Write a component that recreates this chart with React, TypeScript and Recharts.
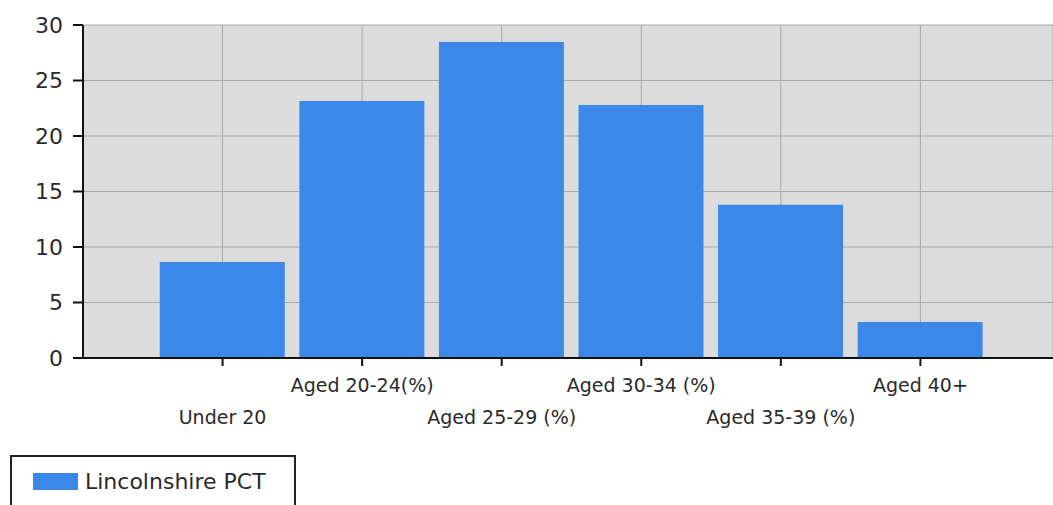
import React from 'react';
import { BarChart, Bar, XAxis, YAxis, CartesianGrid } from 'recharts';

const categories = ['Under 20', 'Aged 20-24(%)', 'Aged 25-29 (%)', 'Aged 30-34 (%)', 'Aged 35-39 (%)', 'Aged 40+'];
const values = [8.65, 23.15, 28.47, 22.8, 13.8, 3.24];
const positions = [1, 2, 3, 4, 5, 6];
const yTicks = [0, 5, 10, 15, 20, 25, 30];
const seriesName = 'Lincolnshire PCT';

const data = categories.map((c, i) => ({ pos: positions[i], name: c, value: values[i] }));

const FONT = '"DejaVu Sans", sans-serif';
const BAR_COLOR = '#3b88e9';

const XTick = (props: any) => {
  const { x, y, payload } = props;
  const i = positions.indexOf(payload.value);
  const lower = i % 2 === 0;
  return (
    <text
      x={x}
      y={y + (lower ? 51 : 19)}
      textAnchor="middle"
      dominantBaseline="central"
      fontFamily={FONT}
      fontSize={19}
      fill="#2a2a2a"
    >
      {categories[i]}
    </text>
  );
};

export default function App() {
  return (
    <div style={{ position: 'absolute', left: 0, top: 0, width: 1053, height: 505, overflow: 'hidden', background: '#fff' }}>
      <BarChart width={1053} height={505} data={data} margin={{ top: 25, right: 0, bottom: 67, left: 0 }}>
        <CartesianGrid fill="#dcdcdc" stroke="#a8a8a8" strokeWidth={1} />
        <XAxis
          type="number"
          dataKey="pos"
          domain={[0, 6.95]}
          ticks={positions}
          allowDataOverflow
          height={80}
          tickSize={8}
          tickMargin={0}
          tick={<XTick />}
          axisLine={{ stroke: '#111', strokeWidth: 2 }}
          tickLine={{ stroke: '#111', strokeWidth: 2 }}
          interval={0}
        />
        <YAxis
          type="number"
          domain={[0, 30]}
          ticks={yTicks}
          width={83}
          tickSize={10}
          tickMargin={10}
          axisLine={{ stroke: '#111', strokeWidth: 2 }}
          tickLine={{ stroke: '#111', strokeWidth: 2 }}
          tick={{ fontFamily: FONT, fontSize: 22, fill: '#2a2a2a' }}
        />
        <Bar dataKey="value" name={seriesName} fill={BAR_COLOR} barSize={125} isAnimationActive={false} />
      </BarChart>
      <div
        style={{
          position: 'absolute',
          left: 10,
          top: 455,
          width: 286,
          height: 70,
          border: '2px solid #222',
          background: '#fff',
          boxSizing: 'border-box',
        }}
      >
        <div style={{ position: 'absolute', left: 21, top: 16, width: 45, height: 17, background: BAR_COLOR }} />
        <div
          style={{
            position: 'absolute',
            left: 73,
            top: 12,
            fontFamily: FONT,
            fontSize: 22,
            color: '#2a2a2a',
            lineHeight: '25px',
            whiteSpace: 'nowrap',
          }}
        >
          {seriesName}
        </div>
      </div>
    </div>
  );
}
